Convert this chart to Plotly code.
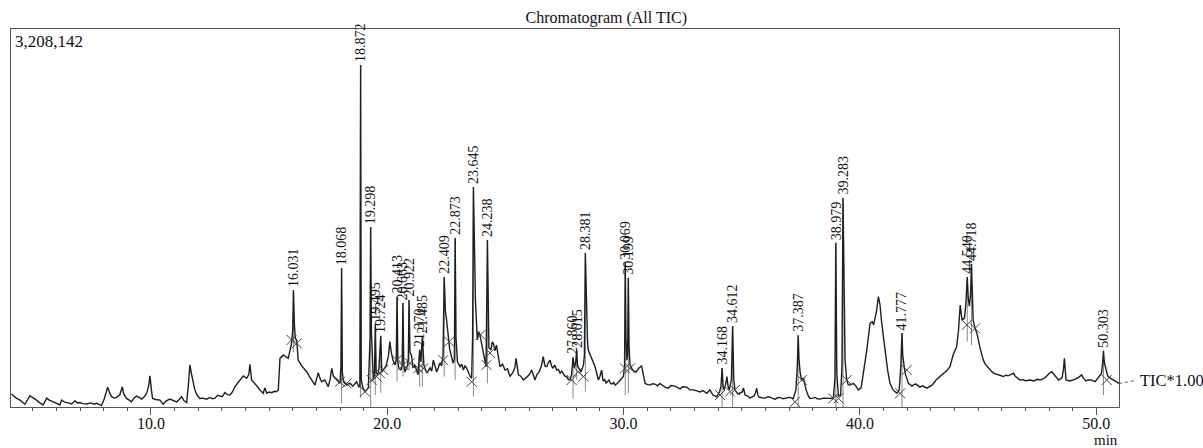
import plotly.graph_objects as go

# ---- data (retention time in min, relative intensity in % of max 3,208,142) ----
rt = [4.10,4.30,4.46,4.67,4.88,5.00,5.16,5.30,5.44,5.59,5.70,5.87,6.02,6.15,6.22,6.35,6.50,6.65,6.78,6.90,
      6.99,7.12,7.28,7.45,7.60,7.70,7.82,7.91,8.03,8.17,8.25,8.34,8.45,8.55,8.68,8.79,8.85,8.97,9.08,9.18,
      9.28,9.39,9.50,9.61,9.72,9.82,9.90,9.96,10.02,10.07,10.20,10.38,10.52,10.65,10.80,10.95,11.09,11.20,11.30,11.40,
      11.51,11.58,11.65,11.72,11.80,11.86,11.95,12.07,12.20,12.35,12.50,12.60,12.71,12.82,12.92,13.02,13.13,13.24,13.34,13.45,
      13.55,13.66,13.77,13.91,14.05,14.14,14.19,14.26,14.40,14.50,14.61,14.75,14.82,14.90,15.00,15.11,15.22,15.32,15.39,15.46,
      15.60,15.71,15.81,15.90,15.95,16.00,16.031,16.07,16.11,16.17,16.23,16.38,16.50,16.59,16.70,16.80,16.94,17.00,17.08,17.15,
      17.22,17.36,17.50,17.58,17.65,17.72,17.79,17.90,18.00,18.04,18.068,18.10,18.15,18.28,18.42,18.54,18.70,18.80,18.84,18.872,
      18.90,18.97,19.06,19.13,19.20,19.27,19.298,19.33,19.38,19.41,19.46,19.495,19.53,19.60,19.65,19.724,19.77,19.85,19.95,20.05,
      20.11,20.17,20.24,20.33,20.38,20.413,20.45,20.49,20.58,20.63,20.663,20.70,20.75,20.85,20.89,20.922,20.96,21.02,21.09,21.17,
      21.24,21.30,21.370,21.42,21.485,21.55,21.67,21.75,21.81,21.88,21.95,22.02,22.09,22.16,22.23,22.30,22.36,22.409,22.46,22.51,
      22.58,22.64,22.70,22.79,22.84,22.873,22.91,22.97,23.08,23.15,23.22,23.29,23.36,23.43,23.50,23.57,23.61,23.645,23.69,23.73,
      23.81,23.87,23.92,23.98,24.05,24.12,24.18,24.238,24.27,24.30,24.39,24.44,24.49,24.56,24.62,24.70,24.77,24.88,24.98,25.09,
      25.19,25.32,25.40,25.45,25.50,25.55,25.65,25.76,25.91,26.01,26.11,26.18,26.25,26.33,26.42,26.52,26.60,26.67,26.75,26.82,
      26.89,26.95,27.01,27.09,27.17,27.24,27.31,27.38,27.45,27.52,27.60,27.66,27.73,27.80,27.860,27.92,27.97,28.015,28.05,28.09,
      28.20,28.30,28.34,28.381,28.43,28.47,28.50,28.60,28.66,28.72,28.78,28.83,28.93,29.00,29.07,29.13,29.20,29.26,29.32,29.38,
      29.45,29.51,29.58,29.64,29.75,29.85,29.99,30.04,30.069,30.10,30.14,30.17,30.199,30.23,30.27,30.38,30.52,30.65,30.76,30.82,
      30.91,31.00,31.12,31.22,31.33,31.44,31.54,31.65,31.75,31.89,32.00,32.17,32.28,32.39,32.50,32.68,32.80,32.95,33.10,33.23,
      33.35,33.52,33.65,33.78,33.94,34.06,34.12,34.168,34.21,34.25,34.33,34.37,34.42,34.47,34.56,34.612,34.66,34.71,34.84,34.97,
      35.02,35.07,35.14,35.25,35.35,35.45,35.52,35.60,35.63,35.68,35.73,35.85,35.99,36.10,36.20,36.30,36.41,36.52,36.62,36.75,
      36.87,37.00,37.18,37.29,37.35,37.387,37.42,37.47,37.53,37.61,37.66,37.72,37.80,37.88,38.00,38.10,38.20,38.31,38.45,38.56,
      38.70,38.87,38.94,38.979,39.02,39.09,39.18,39.24,39.283,39.32,39.37,39.44,39.50,39.58,39.72,39.83,39.93,40.05,40.17,40.29,
      40.43,40.52,40.58,40.64,40.70,40.78,40.85,40.92,41.00,41.06,41.17,41.27,41.40,41.56,41.66,41.73,41.777,41.81,41.84,41.91,
      42.05,42.20,42.30,42.37,42.54,42.65,42.83,42.95,43.05,43.22,43.39,43.50,43.60,43.70,43.81,43.94,44.09,44.17,44.24,44.32,
      44.42,44.48,44.54,44.58,44.63,44.68,44.718,44.76,44.79,44.87,44.95,45.08,45.22,45.30,45.42,45.55,45.65,45.75,45.84,45.95,
      46.07,46.17,46.27,46.38,46.49,46.57,46.65,46.77,46.90,47.00,47.20,47.35,47.50,47.62,47.75,47.87,48.00,48.12,48.20,48.26,
      48.40,48.55,48.61,48.65,48.69,48.72,48.89,49.00,49.14,49.28,49.38,49.45,49.56,49.65,49.78,49.95,50.12,50.22,50.27,50.303,
      50.34,50.40,50.48,50.58,50.72,50.84,50.96]

tic = [3.8,2.6,2.0,0.8,3.3,2.8,2.0,1.2,0.6,2.6,2.0,1.5,1.0,0.6,2.0,1.4,1.2,0.9,1.8,1.2,
       1.3,1.0,0.9,1.2,0.8,1.1,0.7,0.4,2.5,5.8,4.2,3.0,2.6,2.8,3.5,5.9,3.8,2.5,2.0,1.5,
       2.6,3.2,2.8,2.3,3.0,4.0,6.0,9.1,5.0,2.5,2.2,2.0,0.8,1.8,2.3,1.8,1.5,2.2,3.0,1.8,
       1.3,6.0,12.3,9.5,6.5,5.0,3.5,2.5,2.6,2.3,2.8,2.4,2.6,3.4,3.2,3.0,4.2,3.6,3.5,4.4,
       5.9,7.0,7.9,9.1,8.4,9.5,12.5,7.9,6.9,6.0,5.0,4.0,5.6,4.0,4.4,4.2,4.6,4.5,5.0,14.2,
       15.2,14.6,14.2,17.0,18.6,22.5,34.2,24.0,20.0,19.6,13.7,12.0,11.2,10.3,9.0,7.9,6.4,8.0,10.0,8.5,
       7.4,7.9,5.9,8.0,11.3,9.0,8.5,7.6,6.9,12.0,40.6,10.0,7.3,6.4,7.0,6.1,7.4,5.9,6.0,100.0,
       8.0,5.6,4.5,5.0,5.6,20.0,52.6,22.0,9.0,7.9,10.0,24.3,10.0,9.4,11.4,20.8,10.2,11.0,12.0,15.0,
       19.1,16.0,13.7,12.3,14.0,32.2,13.0,11.4,10.8,12.5,30.4,12.0,10.2,12.0,14.0,31.3,16.0,15.2,11.4,12.3,
       10.5,9.4,16.7,13.2,20.6,12.3,9.9,11.0,11.4,10.5,13.7,12.0,10.2,11.5,12.9,12.0,15.2,38.0,28.0,25.4,
       19.6,17.0,15.2,12.8,14.0,49.4,20.0,13.2,11.8,12.5,10.8,12.0,11.4,9.9,9.0,8.4,20.0,64.3,45.0,31.3,
       19.6,22.0,21.1,19.0,16.7,14.0,11.8,48.8,25.0,17.3,16.7,19.0,18.6,16.5,18.1,14.0,11.8,12.5,10.8,11.2,
       8.9,10.2,11.5,14.2,11.0,9.4,9.0,7.9,8.8,9.5,10.8,9.0,7.9,9.5,10.2,12.0,14.7,12.0,11.8,13.0,
       13.7,12.0,11.4,12.2,10.8,11.0,9.9,10.5,9.9,9.0,8.8,8.0,7.9,9.5,14.5,11.4,13.0,16.5,12.0,11.4,
       10.2,12.3,15.0,45.0,24.0,19.6,16.7,15.2,14.0,13.2,12.0,10.8,7.9,9.0,10.8,7.6,8.0,7.0,7.5,7.9,
       6.8,6.7,7.2,6.4,7.0,7.9,8.9,12.0,42.1,20.0,13.7,16.0,37.7,18.0,12.3,10.8,10.2,11.4,12.0,10.0,
       6.9,6.6,6.4,6.8,6.7,6.2,6.9,6.3,5.8,5.5,6.3,6.1,5.6,5.3,5.9,5.8,5.0,5.0,4.7,4.4,
       4.8,4.0,5.0,3.5,3.0,4.4,6.0,11.4,6.0,5.0,7.0,8.9,6.0,5.0,8.0,23.7,8.0,5.0,3.8,4.4,
       4.4,5.6,3.5,3.2,2.6,3.0,3.2,4.5,5.5,3.5,2.9,2.7,2.6,3.0,2.9,2.5,2.3,2.7,2.8,2.4,
       2.5,2.8,2.5,5.0,12.0,21.0,14.0,10.0,7.9,8.5,7.0,5.0,3.5,2.5,2.6,2.8,2.4,2.3,2.6,2.6,
       2.4,2.5,8.0,48.0,10.0,3.2,3.5,12.0,61.1,30.0,13.7,7.9,6.5,6.4,6.9,6.1,5.0,5.6,10.8,16.7,
       24.5,24.9,24.0,26.0,28.0,32.3,29.8,24.5,20.0,16.7,10.8,6.9,5.0,4.0,5.0,12.0,21.6,15.0,13.7,9.9,
       6.9,6.1,6.6,6.7,5.8,6.2,5.5,6.0,6.4,7.9,8.9,9.5,10.2,10.8,11.8,15.2,17.6,22.5,29.8,25.4,
       26.0,30.0,38.0,32.0,29.5,33.0,41.8,30.0,25.4,23.0,21.5,17.3,13.7,12.5,11.4,10.5,9.9,9.6,9.4,9.2,
       8.9,9.3,9.1,9.5,9.9,9.0,8.5,7.9,8.0,7.7,7.9,7.6,8.1,7.9,8.2,8.8,9.8,10.3,9.6,9.1,
       7.9,8.5,11.0,14.2,10.5,7.9,7.6,7.8,8.2,8.8,9.4,8.5,7.6,7.9,7.9,7.4,9.1,9.8,13.0,16.4,
       13.0,11.4,9.1,8.5,7.9,7.6,6.9]

peak_labels = ["16.031","18.068","18.872","19.298","19.495","19.724","20.413","20.663","20.922",
               "21.370","21.485","22.409","22.873","23.645","24.238","27.860","28.015","28.381",
               "30.069","30.199","34.168","34.612","37.387","38.979","39.283","41.777","44.540",
               "44.718","50.303"]
peak_rt = [16.031,18.068,18.872,19.298,19.495,19.724,20.413,20.663,20.922,
           21.370,21.485,22.409,22.873,23.645,24.238,27.860,28.015,28.381,
           30.069,30.199,34.168,34.612,37.387,38.979,39.283,41.777,44.540,
           44.718,50.303]
peak_height = [34.2,40.6,100.0,52.6,24.3,20.8,32.2,30.4,31.3,
               16.7,20.6,38.0,49.4,64.3,48.8,14.5,16.5,45.0,
               42.1,37.7,11.4,23.7,21.0,48.0,61.1,21.6,38.0,
               41.8,16.4]
peak_drop = [16.0,1.2,2.6,0.0,3.5,4.1,7.4,8.9,10.8,
             5.9,5.9,8.9,7.9,3.0,6.9,2.5,7.9,4.5,
             3.5,4.1,0.0,0.0,0.0,0.0,0.0,0.0,19.1,
             18.1,3.5]

mark_rt = [15.95,16.17,18.00,18.28,19.06,19.34,19.55,19.69,19.83,20.40,20.68,20.96,21.31,21.52,
           22.37,22.62,23.57,23.95,24.20,24.35,27.80,28.08,28.30,30.06,30.27,34.08,34.50,34.71,
           37.25,37.54,38.87,39.09,39.44,41.70,41.98,44.52,44.87,50.44]
mark_level = [19.6,18.6,7.4,6.9,4.5,7.9,8.9,9.9,10.8,13.7,12.3,12.8,11.3,11.3,
              13.7,19.1,7.4,21.1,12.3,15.8,7.9,10.3,8.9,11.3,11.3,3.5,4.5,5.0,
              1.5,7.9,2.5,2.5,7.9,4.0,10.8,24.0,23.0,7.9]

max_intensity_label = "3,208,142"
x_ticks = [10.0, 20.0, 30.0, 40.0, 50.0]

SERIF = "Liberation Serif, Times New Roman, serif"

fig = go.Figure()

# drop lines of integrated peaks
dx, dy = [], []
for t, h, b in zip(peak_rt, peak_height, peak_drop):
    dx += [t, t, None]
    dy += [b, h, None]
fig.add_trace(go.Scatter(x=dx, y=dy, mode="lines",
                         line=dict(color="#8a8a8a", width=1), hoverinfo="skip"))

# chromatogram
fig.add_trace(go.Scatter(x=rt, y=tic, mode="lines",
                         line=dict(color="#1e1e1e", width=1.4), name="TIC"))

# peak start/end marks
fig.add_trace(go.Scatter(x=mark_rt, y=mark_level, mode="markers",
                         marker=dict(symbol="x-thin", size=10,
                                     line=dict(width=1, color="#444444")),
                         hoverinfo="skip"))

annotations = []
for lab, t, h in zip(peak_labels, peak_rt, peak_height):
    annotations.append(dict(x=t, y=h, xref="x", yref="y", text=lab, textangle=-90,
                            showarrow=False, xanchor="center", yanchor="bottom", yshift=1,
                            font=dict(family=SERIF, size=14, color="#111111")))

annotations.append(dict(x=0.002, y=0.966, xref="paper", yref="paper", text=max_intensity_label,
                        showarrow=False, xanchor="left", yanchor="middle",
                        font=dict(family=SERIF, size=17, color="#111111")))
annotations.append(dict(x=1.017, y=7.8, xref="paper", yref="y", text="TIC*1.00",
                        showarrow=False, xanchor="left", yanchor="middle",
                        font=dict(family=SERIF, size=16.5, color="#111111")))
annotations.append(dict(x=0.988, y=-0.086, xref="paper", yref="paper", text="min",
                        showarrow=False, xanchor="center", yanchor="middle",
                        font=dict(family=SERIF, size=15, color="#111111")))

fig.update_layout(
    width=1203, height=448,
    margin=dict(l=11, r=84, t=29, b=41),
    paper_bgcolor="white", plot_bgcolor="white",
    showlegend=False,
    title=dict(text="Chromatogram (All TIC)", x=0.504, y=0.962, xref="container", yref="container",
               xanchor="center", yanchor="middle",
               font=dict(family=SERIF, size=16, color="#111111")),
    annotations=annotations,
    shapes=[dict(type="line", xref="paper", yref="y", x0=1.0, x1=1.016, y0=6.9, y1=7.8,
                 line=dict(color="#555555", width=1, dash="dot"))],
    xaxis=dict(range=[4.08, 50.96], showgrid=False, zeroline=False,
               showline=True, linecolor="#555555", linewidth=1, mirror=True,
               ticks="outside", ticklen=7, tickcolor="#555555",
               tickmode="array", tickvals=x_ticks, ticktext=[f"{v:.1f}" for v in x_ticks],
               ticklabelstandoff=-5,
               tickfont=dict(family=SERIF, size=16, color="#111111"),
               minor=dict(ticks="outside", ticklen=3, dtick=1, tick0=0, tickcolor="#555555")),
    yaxis=dict(range=[0, 110.5], showgrid=False, zeroline=False,
               showline=True, linecolor="#555555", linewidth=1, mirror=True,
               showticklabels=False, ticks=""),
)

fig.write_html("out.html")
